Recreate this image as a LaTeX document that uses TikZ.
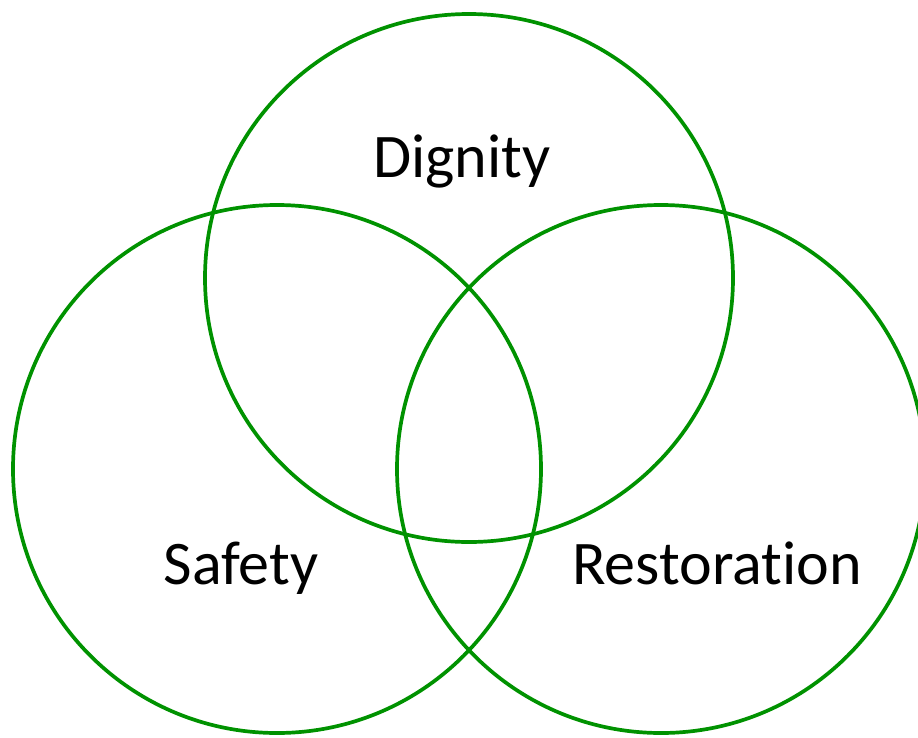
\documentclass[tikz,border=0pt]{standalone}
\usepackage{fontspec}
\setmainfont{Carlito}[Ligatures=NoCommon]
\definecolor{ringgreen}{RGB}{0,146,0}
\begin{document}
\begin{tikzpicture}[x=1pt,y=-1pt,
  ring/.style={draw=ringgreen,line width=3.7pt},
  lbl/.style={anchor=base,inner sep=0pt,font=\fontsize{62}{70}\selectfont}]
\useasboundingbox (0,0) rectangle (918,737);
\begin{scope}
\clip (0,0) rectangle (918,737);
\draw[ring] (469,278) circle[radius=264];
\draw[ring] (277,469) circle[radius=264];
\draw[ring] (661,469) circle[radius=264];
\end{scope}
\node[lbl] (dignity) at (462,177) {Dignity};
\node[lbl] (safety) at (241,584) {Safety};
\node[lbl] (restoration) at (717,584) {Restoration};
\end{tikzpicture}
\end{document}
